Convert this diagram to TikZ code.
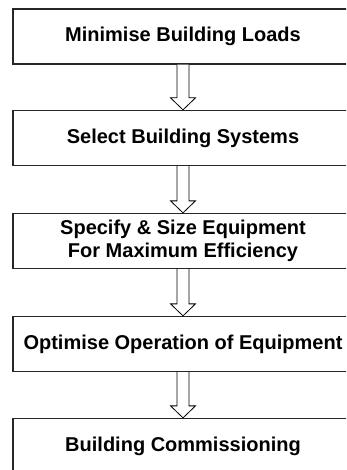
\documentclass[tikz,border=0pt]{standalone}
\usepackage{fontspec}
\setmainfont{Liberation Sans}
\usetikzlibrary{calc}
\newcommand{\boxwd}{340pt}
% hollow block arrow from the bottom of one box to the top of the next
\newcommand{\flowarrow}[2]{%
  \draw[line width=.8pt, fill=white]
    ($(#1.south)+(-6,0)$) -- ($(#2.north)+(-6,-12)$) -- ($(#2.north)+(-12.5,-12)$)
    -- (#2.north) -- ($(#2.north)+(12.5,-12)$) -- ($(#2.north)+(6,-12)$)
    -- ($(#1.south)+(6,0)$);}

\begin{document}
\begin{tikzpicture}[x=1pt, y=-1pt]
    \clip (0,0) rectangle (346,470);
    \tikzset{stage/.style={draw=black!85, line width=1.3pt, rectangle,
      minimum width=\boxwd, minimum height=55pt, align=center,
      font=\fontsize{20}{23}\selectfont\bfseries}}
    % steps of the design process
        \node (loads) at (183,36.5) [stage] {Minimise Building Loads};
        \node (systems) at (183,138) [stage] {Select Building Systems};
        \node (equip) at (183,241) [stage] {Specify \& Size Equipment\\For Maximum Efficiency};
        \node (oper) at (183,344) [stage] {Optimise Operation of Equipment};
        \node (comm) at (183,446) [stage] {Building Commissioning};

        \flowarrow{loads}{systems}
        \flowarrow{systems}{equip}
        \flowarrow{equip}{oper}
        \flowarrow{oper}{comm}

  \end{tikzpicture}
\end{document}
